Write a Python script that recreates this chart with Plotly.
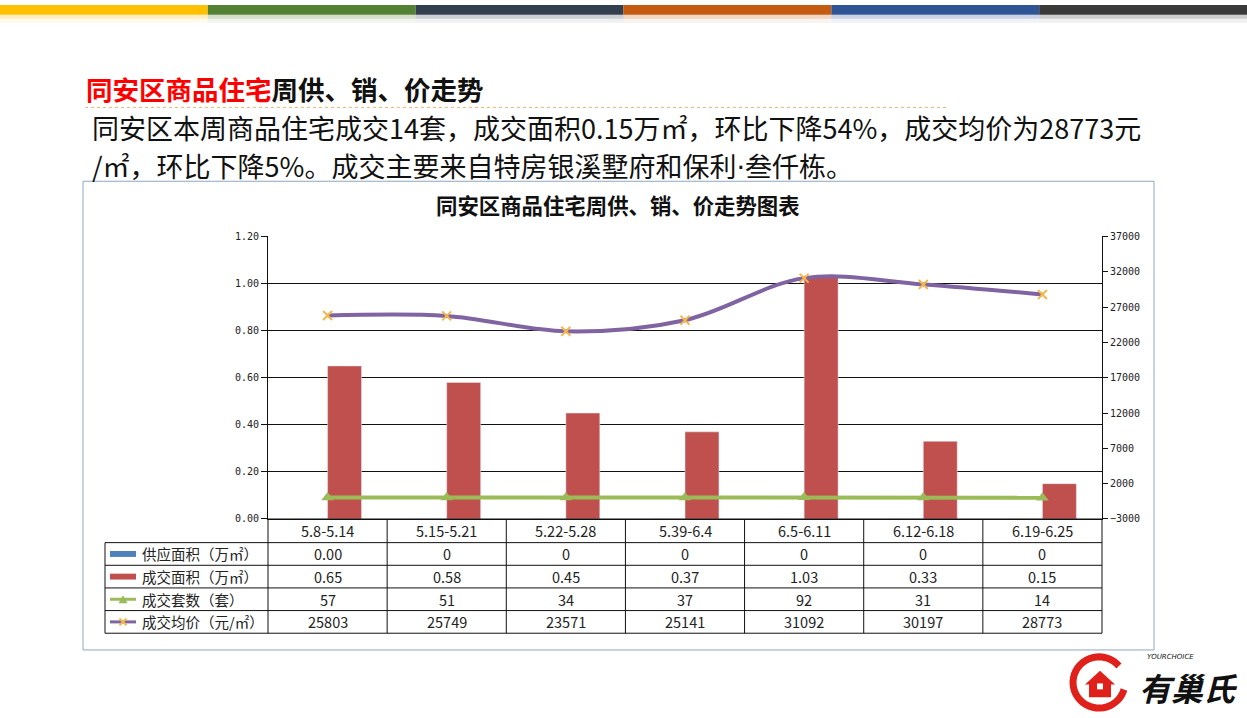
import math
import plotly.graph_objects as go

W, H = 1247, 718

# ---------------- data ----------------
categories = ["5.8-5.14", "5.15-5.21", "5.22-5.28", "5.39-6.4", "6.5-6.11", "6.12-6.18", "6.19-6.25"]
supply_area = [0, 0, 0, 0, 0, 0, 0]
supply_labels = ["0.00", "0", "0", "0", "0", "0", "0"]
deal_area = [0.65, 0.58, 0.45, 0.37, 1.03, 0.33, 0.15]
deal_units = [57, 51, 34, 37, 92, 31, 14]
avg_price = [25803, 25749, 23571, 25141, 31092, 30197, 28773]
row_names = ["供应面积（万㎡）", "成交面积（万㎡）", "成交套数（套）", "成交均价（元/㎡）"]
left_ticks = [0, 0.2, 0.4, 0.6, 0.8, 1.0, 1.2]
right_ticks = [-3000, 2000, 7000, 12000, 17000, 22000, 27000, 32000, 37000]

C_BLUE = "#4F81BD"
C_RED = "#C0504D"
C_GREEN = "#9BBB59"
C_PURPLE = "#8064A2"
C_XMARK = "#F7B84B"

CJK = "Noto Sans CJK SC"
MONO = "DejaVu Sans Mono"


def X(px):
    return px / W


def Y(py):
    return 1 - py / H


def P(points, close=False):
    s = "M " + " L ".join("{:.5f},{:.5f}".format(X(px), Y(py)) for px, py in points)
    return s + (" Z" if close else "")


# plot area in pixels
PL, PR, PT, PB = 268, 1102, 235, 522

fig = go.Figure()

fig.add_trace(go.Bar(x=categories, y=supply_area, name=row_names[0], marker_color=C_BLUE,
                     showlegend=False))
fig.add_trace(go.Bar(x=categories, y=deal_area, name=row_names[1], marker_color=C_RED,
                     showlegend=False))
fig.add_trace(go.Scatter(x=categories, y=deal_units, name=row_names[2], yaxis="y2", mode="lines+markers",
                         line=dict(color=C_GREEN, width=4),
                         marker=dict(symbol="triangle-up", size=11, color=C_GREEN),
                         showlegend=False))
fig.add_trace(go.Scatter(x=categories, y=avg_price, name=row_names[3], yaxis="y2", mode="lines+markers",
                         line=dict(color=C_PURPLE, width=4, shape="spline", smoothing=1.0),
                         marker=dict(symbol="x-thin", size=9, color=C_XMARK,
                                     line=dict(color=C_XMARK, width=2)),
                         showlegend=False))

shapes = []
annotations = []

# top colour stripe
stripe_cols = ["#FFC000", "#548235", "#323F4F", "#C55A11", "#2F5597", "#3A3A3A"]
sw = W / len(stripe_cols)
for i, c in enumerate(stripe_cols):
    shapes.append(dict(type="rect", xref="paper", yref="paper", x0=X(i * sw), x1=X((i + 1) * sw),
                       y0=Y(0), y1=Y(10), fillcolor=c, line=dict(width=0), layer="above"))
    shapes.append(dict(type="rect", xref="paper", yref="paper", x0=X(i * sw), x1=X((i + 1) * sw),
                       y0=Y(10), y1=Y(14), fillcolor=c, opacity=0.25, line=dict(width=0)))
    shapes.append(dict(type="rect", xref="paper", yref="paper", x0=X(i * sw), x1=X((i + 1) * sw),
                       y0=Y(14), y1=Y(18), fillcolor=c, opacity=0.08, line=dict(width=0)))

# heading
annotations.append(dict(xref="paper", yref="paper", x=X(84), y=Y(85), xanchor="left", yanchor="middle",
                        showarrow=False,
                        text="<b><span style='color:#FF0000'>同安区商品住宅</span>周供、销、价走势</b>",
                        font=dict(family=CJK, size=26.5, color="#111111")))
shapes.append(dict(type="line", xref="paper", yref="paper", x0=X(85), x1=X(948), y0=Y(104), y1=Y(104),
                   line=dict(color="#E9B56E", width=1, dash="dot")))

# paragraph
annotations.append(dict(xref="paper", yref="paper", x=X(90), y=Y(124.5), xanchor="left", yanchor="middle",
                        showarrow=False,
                        text="同安区本周商品住宅成交14套，成交面积0.15万㎡，环比下降54%，成交均价为28773元",
                        font=dict(family=CJK, size=27, color="#111111")))
annotations.append(dict(xref="paper", yref="paper", x=X(90), y=Y(163.5), xanchor="left", yanchor="middle",
                        showarrow=False,
                        text="/㎡，环比下降5%。成交主要来自特房银溪墅府和保利<span style='font-family:DejaVu Sans'>·</span>叁仟栋。",
                        font=dict(family=CJK, size=27, color="#111111")))

# chart box
shapes.append(dict(type="rect", xref="paper", yref="paper", x0=X(83), x1=X(1154), y0=Y(179), y1=Y(655),
                   line=dict(color="#8FA8BF", width=1), fillcolor="rgba(0,0,0,0)"))
annotations.append(dict(xref="paper", yref="paper", x=X(618), y=Y(203), xanchor="center", yanchor="middle",
                        showarrow=False, text="<b>同安区商品住宅周供、销、价走势图表</b>",
                        font=dict(family=CJK, size=21.4, color="#111111")))

# data table
n = len(categories)
col_w = (PR - PL) / n
TL = 105
row_tops = [546, 569, 592, 615]
row_h = 23
rc = [t + row_h / 2 for t in row_tops]
bottom = row_tops[-1] + row_h
line_black = dict(color="#111111", width=1)
shapes.append(dict(type="line", xref="paper", yref="paper", x0=X(PL), x1=X(PR), y0=Y(PB), y1=Y(PB), line=line_black))
for t in row_tops + [bottom]:
    shapes.append(dict(type="line", xref="paper", yref="paper", x0=X(TL), x1=X(PR), y0=Y(t), y1=Y(t),
                       line=line_black))
for i in range(n + 1):
    xx = PL + i * col_w
    shapes.append(dict(type="line", xref="paper", yref="paper", x0=X(xx), x1=X(xx), y0=Y(PB), y1=Y(bottom),
                       line=line_black))
shapes.append(dict(type="line", xref="paper", yref="paper", x0=X(TL), x1=X(TL), y0=Y(row_tops[0]),
                   y1=Y(bottom), line=line_black))

tfont = dict(family=CJK, size=14.5, color="#222222")
rows_text = [supply_labels,
             ["{:.2f}".format(v) for v in deal_area],
             [str(v) for v in deal_units],
             [str(v) for v in avg_price]]
for i, cat in enumerate(categories):
    cx = PL + (i + 0.5) * col_w
    annotations.append(dict(xref="paper", yref="paper", x=X(cx), y=Y(PB + 12), xanchor="center",
                            yanchor="middle", showarrow=False, text=cat, font=tfont))
    for r in range(4):
        annotations.append(dict(xref="paper", yref="paper", x=X(cx), y=Y(rc[r]), xanchor="center",
                                yanchor="middle", showarrow=False, text=rows_text[r][i], font=tfont))
for r in range(4):
    annotations.append(dict(xref="paper", yref="paper", x=X(140), y=Y(rc[r]), xanchor="left",
                            yanchor="middle", showarrow=False, text=row_names[r], font=tfont))

# legend keys in the table
key_x0, key_x1 = 110, 136
kx = (key_x0 + key_x1) / 2
shapes.append(dict(type="rect", xref="paper", yref="paper", x0=X(key_x0), x1=X(key_x1), y0=Y(rc[0] - 3),
                   y1=Y(rc[0] + 3), fillcolor=C_BLUE, line=dict(width=0)))
shapes.append(dict(type="rect", xref="paper", yref="paper", x0=X(key_x0), x1=X(key_x1), y0=Y(rc[1] - 3),
                   y1=Y(rc[1] + 3), fillcolor=C_RED, line=dict(width=0)))
shapes.append(dict(type="line", xref="paper", yref="paper", x0=X(key_x0), x1=X(key_x1), y0=Y(rc[2]),
                   y1=Y(rc[2]), line=dict(color=C_GREEN, width=3)))
shapes.append(dict(type="path", xref="paper", yref="paper",
                   path=P([(kx - 4.5, rc[2] + 4), (kx, rc[2] - 4), (kx + 4.5, rc[2] + 4)], close=True),
                   fillcolor=C_GREEN, line=dict(width=0)))
shapes.append(dict(type="line", xref="paper", yref="paper", x0=X(key_x0), x1=X(key_x1), y0=Y(rc[3]),
                   y1=Y(rc[3]), line=dict(color=C_PURPLE, width=3)))
shapes.append(dict(type="path", xref="paper", yref="paper",
                   path=P([(kx - 3.5, rc[3] - 3.5), (kx + 3.5, rc[3] + 3.5)]),
                   line=dict(color=C_XMARK, width=2)))
shapes.append(dict(type="path", xref="paper", yref="paper",
                   path=P([(kx - 3.5, rc[3] + 3.5), (kx + 3.5, rc[3] - 3.5)]),
                   line=dict(color=C_XMARK, width=2)))

# logo (approximation)
cxl, cyl, rl = 1099, 688, 26
pts = []
for a in range(40, 345, 8):
    ang = math.radians(a)
    pts.append((cxl + rl * math.cos(ang), cyl - rl * math.sin(ang)))
shapes.append(dict(type="path", xref="paper", yref="paper", path=P(pts),
                   line=dict(color="#E0201B", width=7)))
house = [(1085, 690), (1100, 676), (1115, 690), (1111, 690), (1111, 703), (1089, 703), (1089, 690)]
shapes.append(dict(type="path", xref="paper", yref="paper", path=P(house, close=True),
                   fillcolor="#E0201B", line=dict(width=0)))
shapes.append(dict(type="rect", xref="paper", yref="paper", x0=X(1097), x1=X(1103), y0=Y(689), y1=Y(695),
                   fillcolor="white", line=dict(width=0)))
annotations.append(dict(xref="paper", yref="paper", x=X(1188), y=Y(693), xanchor="center", yanchor="middle",
                        showarrow=False, text="<b><i>有巢氏</i></b>",
                        font=dict(family=CJK, size=32, color="#111111")))
annotations.append(dict(xref="paper", yref="paper", x=X(1170), y=Y(662), xanchor="center", yanchor="middle",
                        showarrow=False, text="<i>YOURCHOICE</i>",
                        font=dict(family="DejaVu Sans", size=7, color="#111111")))

tickfont = dict(family=MONO, size=10, color="#222222")
fig.update_layout(
    width=W, height=H, margin=dict(l=0, r=0, t=0, b=0),
    paper_bgcolor="white", plot_bgcolor="white",
    barmode="group", bargap=0.43, bargroupgap=0,
    showlegend=False,
    xaxis=dict(domain=[X(PL), X(PR)], showticklabels=False, showline=True, linecolor="#111111",
               linewidth=1, ticks="", showgrid=False, zeroline=False, fixedrange=True),
    yaxis=dict(domain=[Y(PB), Y(PT)], range=[0, 1.2], tickvals=left_ticks, tickformat=".2f",
               showgrid=True, gridcolor="#111111", gridwidth=1, showline=True, linecolor="#111111",
               ticks="outside", ticklen=6, tickcolor="#111111", tickfont=tickfont, zeroline=False),
    yaxis2=dict(overlaying="y", side="right", range=[-3000, 37000], tickvals=right_ticks, tickformat="d",
                showgrid=False, showline=True, linecolor="#111111", ticks="outside", ticklen=5,
                tickcolor="#111111", tickfont=tickfont, zeroline=False),
    shapes=shapes, annotations=annotations,
)

fig.write_html("out.html")
